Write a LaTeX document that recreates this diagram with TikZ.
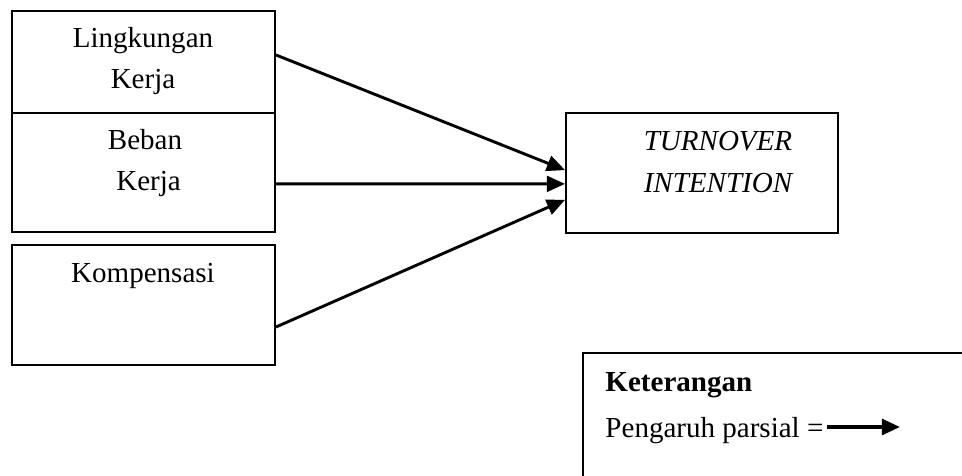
\documentclass[tikz,border=0pt]{standalone}
\usepackage{fontspec}
\setmainfont{Liberation Serif}
\usetikzlibrary{arrows.meta,fit}

\tikzset{
    kotak/.style={draw, line width=0.8pt, inner sep=0pt},
    teks/.style={align=center, font=\fontsize{12}{17}\selectfont},
    pengaruh/.style={-{Triangle[length=7.5pt,width=6.5pt]}, line width=1.2pt}
}

\begin{document}
\begin{tikzpicture}[x=0.01453cm, y=-0.01453cm]
        \path[use as bounding box, clip] (0,0) rectangle (962,476);

        % variabel bebas
        \node[kotak, fit={(12,11) (275,113)}] (lk) {};
        \node[kotak, fit={(12,113) (275,232)}] (bk) {};
        \node[kotak, fit={(12,245) (275,365)}] (kp) {};
        \node[teks] (lkt) at (143,61) {Lingkungan\\Kerja};
        \node[teks] (bkt) at (145,163) {Beban\\\hspace{0.25em}Kerja};
        \node[teks] (kpt) at (143,276) {Kompensasi};

        % variabel terikat
        \node[kotak, fit={(566,113) (838,233)}] (ti) {};
        \node[teks, font=\fontsize{12}{17}\selectfont\itshape] (tit) at (718,162) {TURNOVER\\INTENTION};

        \draw[pengaruh] ([yshift=2.9pt]lk.east) -- ([yshift=1.2pt]ti.west);
        \draw[pengaruh] ([yshift=-4.7pt]bk.east) -- ([yshift=-4.5pt]ti.west);
        \draw[pengaruh] ([yshift=-9.1pt]kp.east) -- ([yshift=-11.1pt]ti.west);

        % keterangan
        \node[kotak, fit={(583,353) (1000,520)}] (ket) {};
        \node[teks, anchor=base west, inner sep=0pt, font=\fontsize{12}{17}\selectfont\bfseries] (kett) at (605,391) {Keterangan};
        \node[teks, anchor=base west, inner sep=0pt] (pp) at (605,437) {Pengaruh parsial =};
        \coordinate (lgA) at (827,427);
        \coordinate (lgB) at (900,427);
        \draw[pengaruh, line width=1.5pt] (lgA) -- (lgB);
    \end{tikzpicture}
\end{document}
